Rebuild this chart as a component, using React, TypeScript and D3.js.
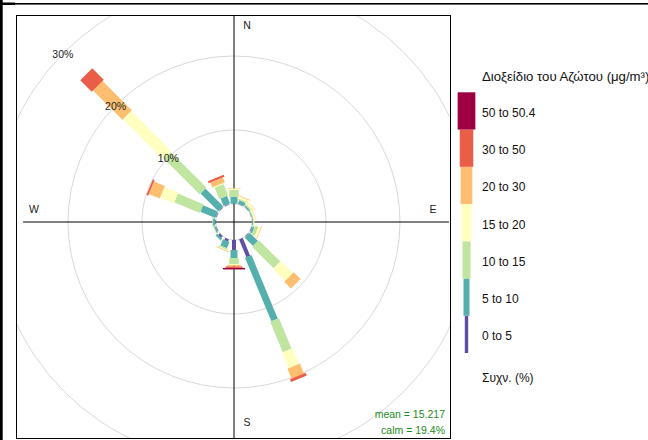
import React from 'react';
import * as d3 from 'd3';

// ---- data ----
const directions = [0, 22.5, 45, 67.5, 90, 112.5, 135, 157.5, 180, 202.5, 225, 247.5, 270, 292.5, 315, 337.5];
const bandLabels = ['0 to 5', '5 to 10', '10 to 15', '15 to 20', '20 to 30', '30 to 50', '50 to 50.4'];
const bandColors = ['#5E4FA2', '#55AFAD', '#BFE5A0', '#FFFFBF', '#FDBF6F', '#EA5D47', '#9E0142'];
// frequency (%) per direction for each concentration band
const freq0to5 = [0.05, 0.05, 0.05, 0.03, 0.03, 0.1, 0.1, 2.6, 1.35, 0.3, 0.3, 0.1, 0.1, 0.1, 0.1, 0.1];
const freq5to10 = [0.9, 0.5, 0.2, 0.1, 0.1, 0.3, 1.58, 9.3, 1.08, 0.9, 0.3, 0.2, 0.3, 2.2, 3.4, 1.1];
const freq10to15 = [0.95, 0.2, 0.2, 0.1, 0.1, 0.5, 4.1, 4.45, 0.81, 0.2, 0.05, 0.1, 0.1, 3.75, 6.8, 1.65];
const freq15to20 = [0.2, 0.3, 0.3, 0.2, 0.1, 0.3, 2.3, 2.3, 0.14, 0.1, 0, 0, 0, 2.0, 7.7, 0.15];
const freq20to30 = [0.06, 0.1, 0.05, 0.05, 0, 0.1, 1.3, 1.45, 0.2, 0.1, 0, 0, 0, 1.6, 5.6, 0.7];
const freq30to50 = [0, 0, 0, 0, 0, 0, 0, 0.4, 0.2, 0, 0, 0, 0, 0.25, 2.2, 0.3];
const freq50to504 = [0, 0, 0, 0, 0, 0, 0, 0, 0.2, 0, 0, 0, 0, 0, 0, 0];
const gridLevels = [10, 20, 30];
const legendTitle = 'Διοξείδιο του Αζώτου (μg/m³)';
const legendFooter = 'Συχν. (%)';
const meanText = 'mean = 15.217';
const calmText = 'calm = 19.4%';

const bandSeries = [freq0to5, freq5to10, freq10to15, freq15to20, freq20to30, freq30to50, freq50to504];
const legendWidths = [3.4, 6, 8, 10, 11.7, 13.5, 17.7];
const barWidths = [4, 7, 9.5, 11.5, 13.5, 17, 22];

const W = 648, H = 440;
const cx = 234, cy = 222;
const panel = { x: 16, y: 15, w: 434, h: 423 };
const FONT = '"Liberation Sans", Arial, sans-serif';

export default function App() {
  const rScale = d3.scaleLinear().domain([0, 30]).range([18, 240]);
  const rows = directions.map((d, j) => {
    const o: any = { dir: d };
    bandLabels.forEach((b, i) => (o[b] = bandSeries[i][j]));
    return o;
  });
  const stacked = d3.stack().keys(bandLabels)(rows as any);
  const pt = (deg: number, r: number) => {
    const t = (deg * Math.PI) / 180;
    return [cx + r * Math.sin(t), cy - r * Math.cos(t)];
  };
  const maxFreq = d3.max(stacked[stacked.length - 1], (d: any) => d[1]) as number;
  const axisR = rScale(maxFreq) + 2;
  const labelAngle = 314.5;

  const legendY = d3.scaleBand().domain([...bandLabels].reverse()).range([92.3, 353]).padding(0);
  const legendCx = 466.5;

  return (
    <svg width={W} height={H} style={{ position: 'absolute', left: 0, top: 0, background: '#fff' }} fontFamily={FONT}>
      <defs>
        <clipPath id="pclip">
          <rect x={panel.x} y={panel.y} width={panel.w} height={panel.h} />
        </clipPath>
      </defs>
      <rect x={0} y={0} width={W} height={H} fill="#fff" />
      {/* outer frame fragments */}
      <rect x={0} y={3} width={W} height={1.6} fill="#000" />
      <rect x={0} y={2.5} width={15} height={2.5} fill="#000" />
      <rect x={0} y={0} width={2.7} height={H} fill="#000" />

      <g clipPath="url(#pclip)">
        {[0, ...gridLevels].map((g) => (
          <circle key={g} cx={cx} cy={cy} r={rScale(g)} fill="none" stroke="#d9d9d9" strokeWidth={1} />
        ))}
        <line x1={cx - axisR} y1={cy} x2={cx + axisR + 4} y2={cy} stroke="#000" strokeWidth={1} />
        <line x1={cx} y1={panel.y} x2={cx} y2={panel.y + panel.h} stroke="#000" strokeWidth={1} />
        {stacked.map((series: any, i: number) =>
          series.map((d: any, j: number) => {
            const r0 = rScale(d[0]);
            const r1 = rScale(d[1]);
            if (r1 - r0 <= 0.01) return null;
            const [x1, y1] = pt(directions[j], r0);
            const [x2, y2] = pt(directions[j], r1);
            return (
              <line key={`${i}-${j}`} x1={x1} y1={y1} x2={x2} y2={y2} stroke={bandColors[i]} strokeWidth={barWidths[i]} strokeLinecap="butt" />
            );
          })
        )}
        {gridLevels.map((g) => {
          const [x, y] = pt(labelAngle, rScale(g));
          return (
            <text key={g} x={x} y={y} textAnchor="middle" dominantBaseline="central" fontSize={10.5} fill="#222">
              {g}%
            </text>
          );
        })}
        <text x={247} y={25} textAnchor="middle" dominantBaseline="central" fontSize={10.5} fill="#222">N</text>
        <text x={247} y={422} textAnchor="middle" dominantBaseline="central" fontSize={10.5} fill="#222">S</text>
        <text x={34} y={209} textAnchor="middle" dominantBaseline="central" fontSize={10.5} fill="#222">W</text>
        <text x={433} y={209} textAnchor="middle" dominantBaseline="central" fontSize={10.5} fill="#222">E</text>
        <text x={445} y={414} textAnchor="end" dominantBaseline="central" fontSize={10.5} fill="#228B22">{meanText}</text>
        <text x={445} y={429.5} textAnchor="end" dominantBaseline="central" fontSize={10.5} fill="#228B22">{calmText}</text>
      </g>
      <rect x={panel.x + 0.5} y={panel.y + 0.5} width={panel.w} height={panel.h} fill="none" stroke="#000" strokeWidth={1} />

      {/* legend */}
      <text x={482} y={76} dominantBaseline="central" fontSize={13.2} fill="#111">{legendTitle}</text>
      {bandLabels.map((b, i) => {
        const y0 = legendY(b) as number;
        const h = legendY.bandwidth();
        return (
          <g key={b}>
            <rect x={legendCx - legendWidths[i] / 2} y={y0} width={legendWidths[i]} height={h} fill={bandColors[i]} />
            <text x={482} y={y0 + h / 2 + 2} dominantBaseline="central" fontSize={12} fill="#111">{b}</text>
          </g>
        );
      })}
      <text x={482} y={378} dominantBaseline="central" fontSize={12} fill="#111">{legendFooter}</text>
    </svg>
  );
}
